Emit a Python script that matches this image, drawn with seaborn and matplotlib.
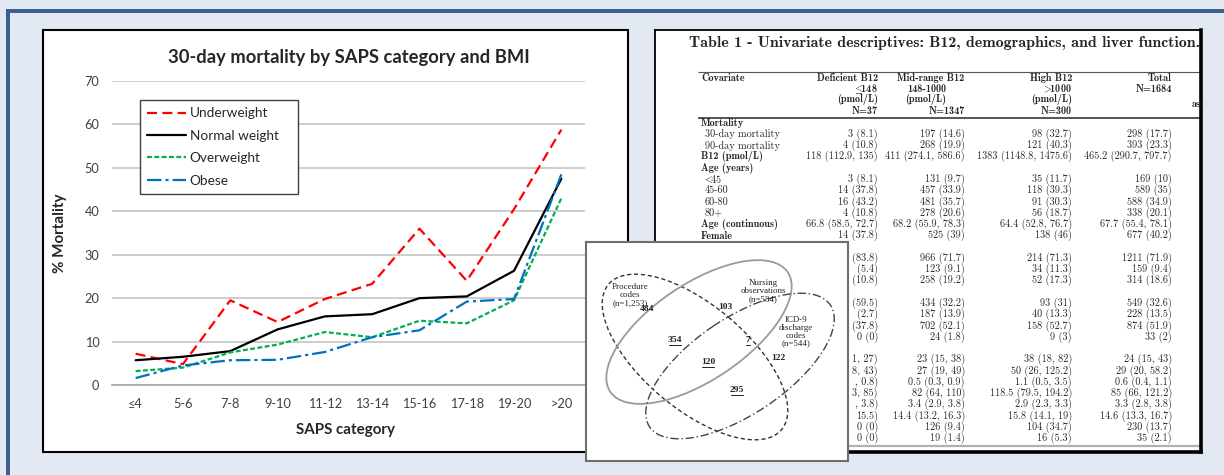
import numpy as np
import pandas as pd
import matplotlib
matplotlib.use("Agg")
import matplotlib.pyplot as plt
from matplotlib.patches import Rectangle, Ellipse
import seaborn as sns

# ---- chart data ----
saps_categories = ["≤4", "5-6", "7-8", "9-10", "11-12", "13-14", "15-16", "17-18", "19-20", ">20"]
bmi_groups = ["Underweight", "Normal weight", "Overweight", "Obese"]
underweight = [7.2, 4.8, 19.5, 14.5, 19.8, 23.3, 36.0, 24.0, 40.5, 58.8]
normal_weight = [5.7, 6.5, 7.8, 12.8, 15.8, 16.3, 20.0, 20.4, 26.3, 47.5]
overweight = [3.2, 4.0, 7.5, 9.3, 12.2, 11.0, 14.8, 14.2, 19.5, 43.0]
obese = [1.6, 4.5, 5.7, 5.8, 7.6, 11.0, 12.6, 19.2, 19.8, 48.5]
y_ticks = [0, 10, 20, 30, 40, 50, 60, 70]

# ---- table data ----
table_title = "Table 1 - Univariate descriptives: B12, demographics, and liver function."
head_deficient = ["Deficient B12", r"$\!\!\leq\!\!$148", "(pmol/L)", "N=37"]
head_midrange = ["Mid-range B12", "148-1000", "(pmol/L)", "N=1347"]
head_high = ["High B12", r"$\!\!>\!\!$1000", "(pmol/L)", "N=300"]
head_total = ["Total", "N=1684"]
row_labels = ["Mortality", "30-day mortality", "90-day mortality", "B12 (pmol/L)", "Age (years)",
              r"$\!\!<\!\!$45", "45-60", "60-80", "80+", "Age (continuous)", "Female"]
row_bold = [True, False, False, True, True, False, False, False, False, True, True]
col_deficient = ["", "3 (8.1)", "4 (10.8)", "118 (112.9, 135)", "", "3 (8.1)", "14 (37.8)", "16 (43.2)",
                 "4 (10.8)", "66.8 (58.5, 72.7)", "14 (37.8)", "",
                 "(83.8)", "(5.4)", "(10.8)", "", "(59.5)", "(2.7)", "(37.8)", "0 (0)", "",
                 "1, 27)", "8, 43)", ", 0.8)", "3, 85)", ", 3.8)", "15.5)", "0 (0)", "0 (0)"]
col_midrange = ["", "197 (14.6)", "268 (19.9)", "411 (274.1, 586.6)", "", "131 (9.7)", "457 (33.9)",
                "481 (35.7)", "278 (20.6)", "68.2 (55.9, 78.3)", "525 (39)", "",
                "966 (71.7)", "123 (9.1)", "258 (19.2)", "", "434 (32.2)", "187 (13.9)", "702 (52.1)",
                "24 (1.8)", "", "23 (15, 38)", "27 (19, 49)", "0.5 (0.3, 0.9)", "82 (64, 110)",
                "3.4 (2.9, 3.8)", "14.4 (13.2, 16.3)", "126 (9.4)", "19 (1.4)"]
col_high = ["", "98 (32.7)", "121 (40.3)", "1383 (1148.8, 1475.6)", "", "35 (11.7)", "118 (39.3)",
            "91 (30.3)", "56 (18.7)", "64.4 (52.8, 76.7)", "138 (46)", "",
            "214 (71.3)", "34 (11.3)", "52 (17.3)", "", "93 (31)", "40 (13.3)", "158 (52.7)", "9 (3)", "",
            "38 (18, 82)", "50 (26, 125.2)", "1.1 (0.5, 3.5)", "118.5 (79.5, 194.2)", "2.9 (2.3, 3.3)",
            "15.8 (14.1, 19)", "104 (34.7)", "16 (5.3)"]
col_total = ["", "298 (17.7)", "393 (23.3)", "465.2 (290.7, 797.7)", "", "169 (10)", "589 (35)",
             "588 (34.9)", "338 (20.1)", "67.7 (55.4, 78.1)", "677 (40.2)", "",
             "1211 (71.9)", "159 (9.4)", "314 (18.6)", "", "549 (32.6)", "228 (13.5)", "874 (51.9)",
             "33 (2)", "", "24 (15, 43)", "29 (20, 58.2)", "0.6 (0.4, 1.1)", "85 (66, 121.2)",
             "3.3 (2.8, 3.8)", "14.6 (13.3, 16.7)", "230 (13.7)", "35 (2.1)"]

# ---- venn diagram data ----
venn_sets = ["Procedure\ncodes\n(n=1,253)", "Nursing\nobservations\n(n=584)", "ICD-9\ndischarge\ncodes\n(n=544)"]
venn_counts = ["484", "103", "122", "354", "7", "120", "295"]
venn_underlined = [False, False, False, True, True, True, True]

W, H = 1224, 475


def fig_rect(x0, y0, x1, y1):
    # pixel box (top-left origin) -> figure fraction rect
    return [x0 / W, 1 - y1 / H, (x1 - x0) / W, (y1 - y0) / H]


sns.set_theme(style="white")
plt.rcParams["font.family"] = ["Lato", "DejaVu Sans"]
plt.rcParams["mathtext.fontset"] = "cm"

fig = plt.figure(figsize=(W / 100, H / 100), dpi=100, facecolor="#e3e9f3")
renderer = fig.canvas.get_renderer()

# blue frame + white panel behind the chart
fig.add_artist(Rectangle((6 / W, 1 - 13 / H), 1 - 6 / W, 4 / H, transform=fig.transFigure,
                         fc="#3b608f", ec="none", zorder=-2))
fig.add_artist(Rectangle((6 / W, 0), 4 / W, 1 - 9 / H, transform=fig.transFigure,
                         fc="#3b608f", ec="none", zorder=-2))
fig.add_artist(Rectangle((43 / W, 1 - 452 / H), 585 / W, 422 / H, transform=fig.transFigure,
                         fc="white", ec="black", lw=1.5, zorder=-1))

# ---------------- line chart ----------------
ax = fig.add_axes(fig_rect(112, 81, 585, 385))
ax.set_facecolor("none")
df = pd.DataFrame({
    "pos": np.tile(np.arange(len(saps_categories)), len(bmi_groups)),
    "Mortality": underweight + normal_weight + overweight + obese,
    "BMI": np.repeat(bmi_groups, len(saps_categories)),
})
palette = {"Underweight": "#ff0000", "Normal weight": "#000000", "Overweight": "#00b050", "Obese": "#0070c0"}
dashes = {"Underweight": (4.5, 2.4), "Normal weight": "", "Overweight": (2.2, 1.1), "Obese": (6.5, 1.8, 1.4, 1.8)}
sns.lineplot(data=df, x="pos", y="Mortality", hue="BMI", style="BMI", hue_order=bmi_groups,
             style_order=bmi_groups, palette=palette, dashes=dashes, linewidth=1.6, sort=False, ax=ax)

ax.set_xlim(-0.5, len(saps_categories) - 0.5)
ax.set_ylim(0, 70)
ax.set_yticks(y_ticks)
ax.set_xticks(np.arange(len(saps_categories)))
ax.set_xticklabels(saps_categories)
ax.set_xticks(np.arange(len(saps_categories) + 1) - 0.5, minor=True)
ax.tick_params(axis="x", which="major", length=0, pad=9, labelsize=9.2, labelcolor="#404040")
ax.tick_params(axis="x", which="minor", length=8, direction="inout", color="#a6a6a6", width=1)
ax.tick_params(axis="y", length=0, pad=9, labelsize=9.2, labelcolor="#404040")
ax.yaxis.grid(True, color="#c0c0c0", lw=1.1)
ax.set_axisbelow(True)
for s in ["left", "right", "top"]:
    ax.spines[s].set_visible(False)
ax.spines["bottom"].set_color("#a6a6a6")
ax.spines["bottom"].set_linewidth(1.2)
ax.set_xlabel("")
ax.set_ylabel("")

handles, labels = ax.get_legend_handles_labels()
leg = ax.legend(handles, labels, loc="upper left", mode="expand",
                bbox_to_anchor=(139.5 / W, 1 - 192 / H, 158.5 / W, 92 / H),
                bbox_transform=fig.transFigure, borderaxespad=0, borderpad=0.55, labelspacing=0.76,
                handlelength=2.9, handletextpad=0.25, fontsize=9.8, fancybox=False, framealpha=1,
                edgecolor="#404040")
leg.get_frame().set_linewidth(1.0)

fig.text(349 / W, 1 - 57 / H, "30-day mortality by SAPS category and BMI", ha="center", va="center",
         fontsize=13.2, fontweight="bold")
fig.text(346 / W, 1 - 430 / H, "SAPS category", ha="center", va="center", fontsize=10.9, fontweight="bold")
fig.text(60 / W, 1 - 233 / H, "% Mortality", ha="center", va="center", rotation=90, fontsize=10.9,
         fontweight="bold")

# ---------------- table image ----------------
tab = fig.add_axes(fig_rect(655, 30, 1201, 452))
tab.set_xlim(655, 1201)
tab.set_ylim(452, 30)
tab.set_xticks([])
tab.set_yticks([])
tab.set_facecolor("white")
for s in tab.spines.values():
    s.set_color("black")
    s.set_linewidth(1.3)
tab.spines["right"].set_linewidth(2.6)
tab.spines["bottom"].set_linewidth(2.6)

rm, bf = "cmr10", "cmb10"


def fit_size(text, family, target_px):
    # font size that gives the text the width it has in the scanned table
    probe = fig.text(0, 0, text, fontfamily=family, fontsize=10)
    w = probe.get_window_extent(renderer).width
    probe.remove()
    return 10 * target_px / w


fs = fit_size(col_total[3], rm, 88)
tab.text(689, 43, table_title, ha="left", va="center", fontfamily=bf,
         fontsize=fit_size(table_title, bf, 511), clip_on=True)
tab.hlines(72, 698, 1201, color="#555555", lw=0.8)
tab.hlines(118, 698, 1201, color="#555555", lw=1.4)
tab.hlines(446, 655, 1201, color="#b0b0b0", lw=1.6)

head_y = [78, 89, 100, 111]
col_right = [878, 965, 1072, 1172]
tab.text(701, head_y[0], "Covariate", ha="left", va="center", fontfamily=bf, fontsize=fs, clip_on=True)
for i, s in enumerate(head_deficient):
    tab.text(col_right[0], head_y[i], s, ha="right", va="center", fontfamily=bf, fontsize=fs, clip_on=True)
mid_right = [964, 946, 946, 965]
for i, s in enumerate(head_midrange):
    tab.text(mid_right[i], head_y[i], s, ha="right", va="center", fontfamily=bf, fontsize=fs, clip_on=True)
for i, s in enumerate(head_high):
    tab.text(col_right[2], head_y[i], s, ha="right", va="center", fontfamily=bf, fontsize=fs, clip_on=True)
for i, s in enumerate(head_total):
    tab.text(col_right[3], head_y[i], s, ha="right", va="center", fontfamily=bf, fontsize=fs, clip_on=True)
tab.text(1192, 104, "ass", ha="left", va="center", fontfamily=bf, fontsize=fs, clip_on=True)

row_step = 11.27
for i, (lab, b) in enumerate(zip(row_labels, row_bold)):
    tab.text(701 if b else 705, 123 + i * row_step, lab, ha="left", va="center",
             fontfamily=bf if b else rm, fontsize=fs, clip_on=True)
for j, col in enumerate([col_deficient, col_midrange, col_high, col_total]):
    for i, s in enumerate(col):
        if s:
            tab.text(col_right[j], 123 + i * row_step, s, ha="right", va="center", fontfamily=rm,
                     fontsize=fs, clip_on=True)

# ---------------- venn diagram inset ----------------
vax = fig.add_axes(fig_rect(586, 242, 848, 461), zorder=5)
vax.set_xlim(586, 848)
vax.set_ylim(461, 242)
vax.set_xticks([])
vax.set_yticks([])
vax.set_facecolor("white")
for s in vax.spines.values():
    s.set_color("#6e6e6e")
    s.set_linewidth(1.5)

vax.add_patch(Ellipse((695, 357), 226, 104, angle=40, fill=False, ec="#333333", lw=1.0, ls=(0, (3, 2))))
vax.add_patch(Ellipse((699, 332), 214, 96, angle=-34, fill=False, ec="#9a9a9a", lw=1.3))
vax.add_patch(Ellipse((740, 366), 218, 96, angle=-34, fill=False, ec="#444444", lw=1.0,
                      ls=(0, (6, 2, 1, 2))))

serif = ["Liberation Serif", "DejaVu Serif"]
set_pos = [(630, 295), (763, 291), (796, 332)]
for s, (x, y) in zip(venn_sets, set_pos):
    vax.text(x, y, s, ha="center", va="center", fontfamily=serif, fontsize=6.4, linespacing=0.95,
             color="#222222")
count_pos = [(647, 309), (725, 307), (778, 358), (675, 340), (748, 340), (708, 362), (737, 390)]
for s, (x, y), u in zip(venn_counts, count_pos, venn_underlined):
    vax.text(x, y, s, ha="center", va="center", fontfamily=serif, fontsize=6.8, fontweight="bold",
             color="#222222")
    if u:
        w = 4.3 * len(s)
        vax.plot([x - w / 2, x + w / 2], [y + 5, y + 5], color="#222222", lw=0.7)

fig.savefig("out.png", dpi=100, facecolor=fig.get_facecolor())
